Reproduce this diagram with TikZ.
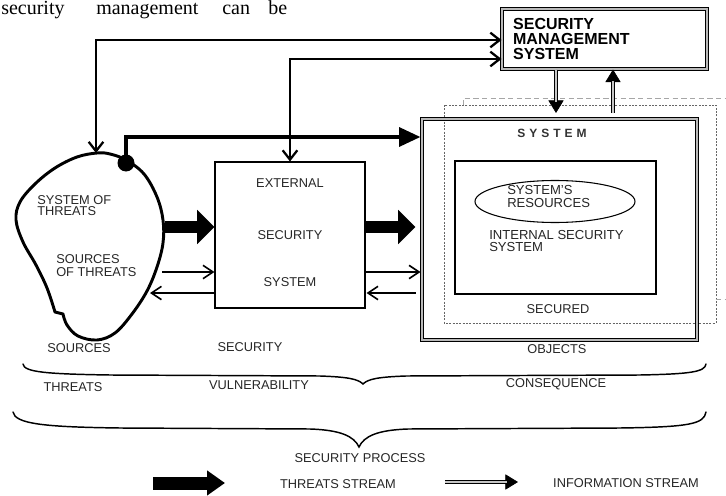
\documentclass[tikz,border=0pt]{standalone}
\usepackage{fontspec}
\setmainfont{Liberation Sans}
\newfontfamily\bodyserif{Liberation Serif}
\usetikzlibrary{arrows.meta,calc,shapes.geometric}

% double shaft with a solid head: thin carrier line with the tip, then the double shaft on top
\newcommand\infoarrow[2]{%
  \draw[line width=0.5pt, -{Triangle[length=9.5pt,width=11.5pt]}] (#1) -- (#2);
  \draw[double=gray!45, double distance=1.8pt, line width=0.9pt, shorten >=8.5pt] (#1) -- (#2);}

\tikzset{
  lbl/.style={font=\fontsize{9.6}{11}\selectfont, text=black!85, inner sep=0pt},
  plainbox/.style={draw, line width=0.8pt, inner sep=0pt},
  dblbox/.style={draw, double=gray!55, double distance=1.4pt, line width=0.75pt, inner sep=0pt},
  feed/.style={line width=1.7pt, {Straight Barb[length=7pt,width=11pt]}-{Straight Barb[length=7pt,width=11pt]}},
  thinflow/.style={line width=1.2pt, -{Straight Barb[length=7.5pt,width=10pt]}},
  bigflow/.style={line width=9.5pt, -{Triangle[length=13pt,width=25pt]}},
  midflow/.style={line width=3pt, -{Triangle[length=16pt,width=14pt]}},
  brace/.style={line width=1.1pt, line cap=round},
}

\begin{document}
\begin{tikzpicture}[x=0.75pt, y=-0.75pt]
\useasboundingbox (0,0) rectangle (726,496);

% running text of the page above the figure
\begin{scope}[every node/.style={font=\bodyserif\fontsize{15}{15}\selectfont, anchor=base west, inner sep=0pt}]
  \node (w1) at (1,14) {security};
  \node (w2) at (96,14) {management};
  \node (w3) at (222,14) {can};
  \node (w4) at (268,14) {be};
\end{scope}

% security management system
\node[dblbox, minimum width=153.75pt, minimum height=45pt, align=left, text width=137pt,
      font=\bfseries\fontsize{12}{11.25}\selectfont] (sms) at (604.5,39)
      {SECURITY\\MANAGEMENT\\SYSTEM};

% dashed frames around the protected system
\draw[line width=0.6pt, gray!80!black, dash pattern=on 1.5pt off 1pt] (444,105) rectangle (716,323);
\draw[line width=0.6pt, gray!70, dash pattern=on 4pt off 2.5pt] (463,105) -- (463,98) -- (730,98);
\draw[line width=0.6pt, gray!70, dash pattern=on 4pt off 2.5pt] (716,299) -- (730,299);

% protected system
\node[dblbox, minimum width=206.25pt, minimum height=165.75pt] (sys) at (559.5,229.5) {};
\node[font=\bfseries\fontsize{9}{10}\selectfont, text=black!80, inner sep=0pt] (systitle) at (552,133)
      {S\hspace{3pt}Y\hspace{3pt}S\hspace{3pt}T\hspace{3pt}E\hspace{3pt}M};
\node[plainbox, line width=0.9pt, minimum width=150.75pt, minimum height=99.75pt] (isys) at (555.5,227.5) {};
\node[draw, line width=0.8pt, ellipse, minimum width=120pt, minimum height=31.5pt, inner sep=0pt] (res) at (555,201.5) {};
\node[lbl, align=left, anchor=west, font=\fontsize{9.8}{9.75}\selectfont] (restext) at (507,196.5) {SYSTEM'S\\RESOURCES};
\node[lbl, align=left, anchor=west, font=\fontsize{9.8}{9}\selectfont] (isystext) at (489,241) {INTERNAL SECURITY\\SYSTEM};
\node[lbl] (secured) at (558,309) {SECURED};

% external security system
\node[plainbox, minimum width=112.5pt, minimum height=109.5pt] (ext) at (290,235) {};
\node[lbl] (ext1) at (290,183) {EXTERNAL};
\node[lbl] (ext2) at (290,235) {SECURITY};
\node[lbl] (ext3) at (290,282) {SYSTEM};

% system of threats
\draw[line width=2.2pt, line join=round]
  plot[smooth, tension=0.6] coordinates {(63,314) (67,325) (78,336) (97,340) (115,333) (132,314)
    (147,291) (157,267) (163,243) (163,220) (157,197) (144,174) (126,160) (110,154) (97,153)
    (77,157) (55,168) (35,184) (20,202) (16,220) (23,242) (36,265) (47,288) (55,312)} -- cycle;
\node[lbl, align=left, anchor=west, font=\fontsize{9.6}{8.5}\selectfont] (sot) at (37,205.5) {SYSTEM OF\\THREATS};
\node[lbl, align=left, anchor=west, font=\fontsize{9.6}{9.75}\selectfont] (srcs) at (56,265.5) {SOURCES\\OF THREATS};

\coordinate (blobTop) at (96,153);
\coordinate (blobDot) at (126,163);
\coordinate (blobA) at (165,227);
\coordinate (blobB) at (162,272);
\coordinate (blobC) at (150,293);
\fill (blobDot) circle (8.5);

% flows between threats, external protection and the system
\draw[bigflow] (blobA) -- (blobA -| ext.west);
\draw[thinflow] (blobB) -- (blobB -| ext.west);
\draw[thinflow] (ext.west |- blobC) -- (blobC);
\draw[bigflow] (ext.east |- blobA) -- ($(sys.west |- blobA)+(-6,0)$);
\draw[thinflow] (ext.east |- blobB) -- ($(sys.west |- blobB)+(-1,0)$);
\draw[thinflow] ($(sys.west |- blobC)+(-6,0)$) -- ($(ext.east |- blobC)+(1,0)$);
\draw[midflow] (blobDot) |- ($(sys.west)+(-1,-92.5)$);

% feedback to the management system
\draw[feed] (blobTop) |- ($(sms.west)+(0,1)$);
\draw[feed] (ext.north) |- ($(sms.west)+(0,20)$);

% information exchange with the management system
\coordinate (cmdEnd) at (556,113);
\coordinate (repStart) at (613,113);
\infoarrow{sms.south -| cmdEnd}{cmdEnd}
\infoarrow{repStart}{sms.south -| repStart}

% stage labels
\node[lbl] (l1) at (79,348) {SOURCES};
\node[lbl] (l2) at (250,347) {SECURITY};
\node[lbl] (l3) at (557,349) {OBJECTS};

% upper brace
\draw[brace] (23,364) .. controls (24,372) and (45,374) .. (110,375)
  -- (320,376) .. controls (348,377) and (358,379) .. (363,384)
  .. controls (368,379) and (378,377) .. (406,376)
  -- (640,375) .. controls (690,374) and (705,372) .. (706,364);

\node[lbl] (l4) at (73,387) {THREATS};
\node[lbl] (l5) at (259,385) {VULNERABILITY};
\node[lbl] (l6) at (556,384) {CONSEQUENCE};

% lower brace
\draw[brace] (13,412) .. controls (15,424) and (45,427) .. (120,428)
  -- (310,429) .. controls (340,430) and (354,436) .. (359,447)
  .. controls (364,436) and (378,430) .. (408,429)
  -- (620,428) .. controls (690,427) and (704,424) .. (706,412);

\node[lbl] (l7) at (360,458) {SECURITY PROCESS};

% legend
\coordinate (lgA) at (153,483);
\coordinate (lgB) at (225,483);
\draw[line width=9.75pt, -{Triangle[length=13.5pt,width=18pt]}] (lgA) -- (lgB);
\node[lbl] (lg1) at (338,484) {THREATS STREAM};
\coordinate (lgC) at (445,482);
\coordinate (lgD) at (518,482);
\infoarrow{lgC}{lgD}
\node[lbl] (lg2) at (626,483) {INFORMATION STREAM};
\end{tikzpicture}
\end{document}
